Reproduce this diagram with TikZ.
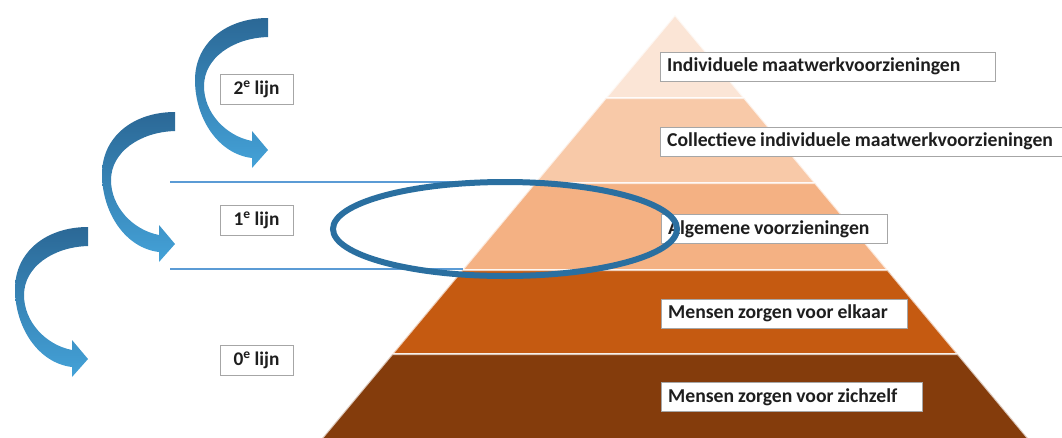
\documentclass[tikz,border=0pt]{standalone}
\usepackage{fontspec}
\setmainfont{Carlito}
\tikzset{every picture/.style={line width=0.75pt}}

\definecolor{laag1}{HTML}{FBE5D6}
\definecolor{laag2}{HTML}{F8C9A8}
\definecolor{laag3}{HTML}{F4B183}
\definecolor{laag4}{HTML}{C55A11}
\definecolor{laag5}{HTML}{843C0C}
\definecolor{pijldonker}{HTML}{2B6896}
\definecolor{pijllicht}{HTML}{44A2D8}
\definecolor{lijnblauw}{HTML}{5B9BD5}
\definecolor{ovaalblauw}{HTML}{2A6FA0}
\definecolor{kadergrijs}{HTML}{A6A6A6}
\definecolor{tekstzwart}{HTML}{1E1E1E}

\tikzset{
  lbl/.style={draw=kadergrijs, fill=white, text=tekstzwart, font=\bfseries\fontsize{14.75}{17}\selectfont,
    inner xsep=5pt, inner ysep=0pt, minimum height=21.75pt, anchor=west, align=left, text width=#1,
    execute at begin node={\spaceskip=0.2em plus 0.05em minus 0.05em\relax}},
  lijnlbl/.style={draw=kadergrijs, fill=white, text=tekstzwart, font=\bfseries\fontsize{14.5}{17}\selectfont,
    inner sep=0pt, minimum width=54.75pt, minimum height=22.5pt,
    execute at begin node={\spaceskip=0.2em\relax}},
  ovaal/.style={draw=ovaalblauw, line width=4.5pt},
  grenslijn/.style={draw=lijnblauw, line width=1.5pt}
}

\begin{document}
\begin{tikzpicture}[x=0.75pt,y=0.75pt,yscale=-1,xscale=1]
\useasboundingbox (0,0) rectangle (1062,437);

%Shape: Pyramid layers
\foreach \ya/\yb/\kleur in {15/98/laag1, 98/183/laag2, 183/270/laag3, 270/354/laag4, 354/445/laag5}
  \draw[fill=\kleur, draw=white, draw opacity=0.7, line width=1.5pt]
    ({675-0.834*(\ya-15)},\ya) -- ({675+0.834*(\ya-15)},\ya) -- ({675+0.834*(\yb-15)},\yb) -- ({675-0.834*(\yb-15)},\yb) -- cycle ;

%Straight Lines
\coordinate (boven-l) at (170,182);
\coordinate (boven-r) at (536,182);
\coordinate (onder-l) at (170,269);
\coordinate (onder-r) at (463,269);
\draw[grenslijn] (boven-l) -- (boven-r) ;
\draw[grenslijn] (onder-l) -- (onder-r) ;

%Curved arrows
\foreach \tx/\ty in {268/18, 175/112, 88/227}
  \shade[shift={(\tx,\ty)}, top color=pijldonker, bottom color=pijllicht]
    (0,0) -- (0,19) .. controls (-35,20) and (-64,40) .. (-64,68) .. controls (-64,95) and (-42,118) .. (-16,123)
    -- (-16,113) -- (0,132) -- (-16,150) -- (-16,140)
    .. controls (-50,136) and (-73,100) .. (-73,62) .. controls (-73,25) and (-42,0) .. (0,0) -- cycle ;

% Text Node
\node[lbl=241pt] (indiv) at (660,66.5) {Individuele maatwerkvoorzieningen};
% Text Node
\node[lbl=305pt] (collectief) at (660,141.5) {Collectieve individuele maatwerkvoorzieningen};
% Text Node
\node[lbl=159.5pt] (algemeen) at (661,229) {Algemene voorzieningen};
% Text Node
\node[lbl=174.5pt] (elkaar) at (661,313.5) {Mensen zorgen voor elkaar};
% Text Node
\node[lbl=186pt] (zichzelf) at (661,397) {Mensen zorgen voor zichzelf};
% Text Node
\node[lijnlbl] (lijn2) at (256.5,89) {2\textsuperscript{e} lijn};
% Text Node
\node[lijnlbl] (lijn1) at (256.5,220) {1\textsuperscript{e} lijn};
% Text Node
\node[lijnlbl] (lijn0) at (256.5,360) {0\textsuperscript{e} lijn};

%Shape: Ellipse
\draw[ovaal] (505,229) ellipse [x radius=172, y radius=47] ;

\end{tikzpicture}
\end{document}
